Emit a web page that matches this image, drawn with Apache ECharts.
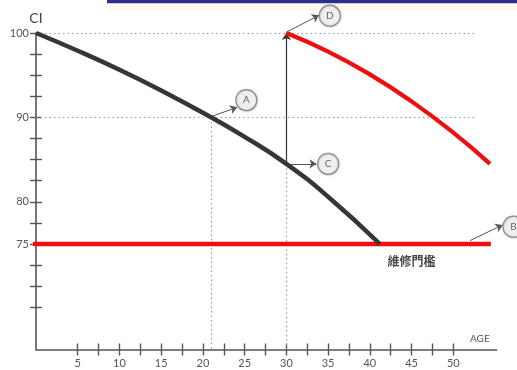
<!DOCTYPE html>
<html>
<head>
<meta charset="utf-8">
<script src="https://cdn.jsdelivr.net/npm/echarts@6/dist/echarts.min.js"></script>
<style>
  html, body { margin: 0; padding: 0; background: #fff; }
  #chart { width: 517px; height: 370px; }
</style>
</head>
<body>
<div id="chart"></div>
<script>
// Condition index (CI) against age, before and after a repair
const agesBefore = [0, 5, 10, 15, 20, 25, 30, 35, 41.2];
const ciBefore   = [100, 97.9, 95.65, 93.2, 90.55, 87.7, 84.5, 80.6, 75];

const agesAfter = [30, 35, 40, 45, 50, 54.4];
const ciAfter   = [100, 97.8, 95.1, 91.9, 88.2, 84.5];

// Maintenance threshold
const thresholdCI = 75;
const thresholdAges = [-0.9, 54.5];
const thresholdText = '維修門檻';
const thresholdTextAt = [45, 72.9];

// Axis ticks and labels
const xTicks  = [5, 7.5, 10, 12.5, 15, 17.5, 20, 22.5, 25, 27.5, 30, 32.5, 35, 37.5, 40, 42.5, 45, 47.5, 50];
const xLabels = [5, 10, 15, 20, 25, 30, 35, 40, 45, 50];
const yTicks  = [67.5, 70, 72.5, 75, 77.5, 80, 82.5, 85, 87.5, 90, 92.5, 95, 97.5, 100];
const yLabels = [75, 80, 90, 100];

// Callouts: letter, point on the chart, bubble position
const calloutNames   = ['A', 'B', 'C', 'D'];
const calloutFrom    = [[21, 90.1], [52, 75.4], [30, 84.5], [30, 100.1]];
const calloutTo      = [[24.1, 91.2], [55.9, 77.25], [33.6, 84.5], [33.9, 102.1]];
const calloutBubbles = [[25.2, 92.05], [57.2, 77.05], [35.0, 84.5], [35.2, 102.05]];

// Repair jump (arrow from C up to D)
const repairFrom = [30, 84.5];
const repairTo   = [30, 100];

// Dotted guide lines
const guideLines = [
  [[0, 100], [52.5, 100]],
  [[0, 90], [52.5, 90]],
  [[21, 90], [21, 62.5]],
  [[30, 84.5], [30, 62.5]]
];

const X_MIN = 0, X_MAX = 55.2, Y_MIN = 62.5, Y_MAX = 100;
const AXIS_COLOR = '#555';
const LABEL_FONT = 'Lato';

function pairs(xs, ys) { return xs.map((x, i) => [x, ys[i]]); }

function xAxisBase(inside) {
  return {
    type: 'value', min: X_MIN, max: X_MAX, position: 'bottom',
    axisLine: { show: !inside, onZero: false, lineStyle: { color: AXIS_COLOR, width: 1.6 } },
    axisTick: { show: true, inside: inside, length: 6, customValues: xTicks,
                lineStyle: { color: AXIS_COLOR, width: 1.4 } },
    axisLabel: inside ? { show: false } :
      { show: true, customValues: xLabels, margin: 8, color: '#555', fontSize: 11, fontFamily: LABEL_FONT },
    splitLine: { show: false }
  };
}
function yAxisBase(inside) {
  const ax = {
    type: 'value', min: Y_MIN, max: Y_MAX, position: 'left',
    axisLine: { show: !inside, onZero: false, lineStyle: { color: AXIS_COLOR, width: 1.6 } },
    axisTick: { show: true, inside: inside, length: 6, customValues: yTicks,
                lineStyle: { color: AXIS_COLOR, width: 1.4 } },
    axisLabel: inside ? { show: false } :
      { show: true, customValues: yLabels, margin: 7, color: '#555', fontSize: 11, fontFamily: LABEL_FONT },
    splitLine: { show: false }
  };
  if (!inside) {
    ax.name = 'CI';
    ax.nameLocation = 'end';
    ax.nameGap = 8;
    ax.nameTextStyle = { color: '#444', fontSize: 14, fontFamily: LABEL_FONT };
  }
  return ax;
}

const chart = echarts.init(document.getElementById('chart'), null, { renderer: 'canvas' });

chart.setOption({
  animation: false,
  backgroundColor: '#fff',
  grid: { left: 36, right: 20.3, top: 33, bottom: 20.5, containLabel: false, outerBoundsMode: 'none' },
  xAxis: [xAxisBase(false), xAxisBase(true)],
  yAxis: [yAxisBase(false), yAxisBase(true)],
  graphic: [
    { type: 'rect', left: 107, top: 0, shape: { width: 410, height: 3.6 }, style: { fill: '#2d2f88' }, silent: true },
    { type: 'rect', left: 107, top: 3.6, shape: { width: 410, height: 7 }, style: { fill: '#fdfaee' }, silent: true },
    { type: 'text', left: 470, top: 334, style: { text: 'AGE', fill: '#555', fontSize: 10, fontFamily: LABEL_FONT } }
  ],
  series: [
    {
      name: 'guides', type: 'lines', coordinateSystem: 'cartesian2d', clip: false, z: 1,
      symbol: 'none',
      lineStyle: { color: '#9a9a9a', width: 1.2, type: [1.5, 3], opacity: 1 },
      data: guideLines.map(c => ({ coords: c }))
    },
    {
      name: 'threshold', type: 'line', clip: false, z: 2,
      symbol: 'none',
      lineStyle: { color: '#f20d0d', width: 4.5 },
      data: thresholdAges.map(a => [a, thresholdCI])
    },
    {
      name: 'arrows', type: 'lines', coordinateSystem: 'cartesian2d', clip: false, z: 3,
      symbol: ['none', 'arrow'], symbolSize: 7,
      lineStyle: { color: '#555', width: 1, opacity: 1 },
      data: calloutFrom.map((p, i) => ({ coords: [p, calloutTo[i]] }))
            .concat([{ coords: [repairFrom, repairTo], lineStyle: { color: '#333', width: 1.2 } }])
    },
    {
      name: 'before', type: 'line', z: 4, smooth: true, symbol: 'none',
      lineStyle: { color: '#363636', width: 4.5 },
      data: pairs(agesBefore, ciBefore)
    },
    {
      name: 'after', type: 'line', z: 4, smooth: true, symbol: 'none',
      lineStyle: { color: '#f20d0d', width: 4.2 },
      data: pairs(agesAfter, ciAfter)
    },
    {
      name: 'callouts', type: 'scatter', clip: false, z: 5,
      symbol: 'circle', symbolSize: 21,
      itemStyle: { color: '#f7f7f7', borderColor: '#7a7a7a', borderWidth: 1.2,
                   shadowBlur: 2, shadowColor: 'rgba(0,0,0,0.25)', shadowOffsetX: 0.5, shadowOffsetY: 0.5 },
      label: { show: true, position: 'inside', formatter: p => p.name,
               color: '#444', fontSize: 10, fontFamily: LABEL_FONT },
      data: calloutBubbles.map((p, i) => ({ name: calloutNames[i], value: p }))
    },
    {
      name: 'thresholdLabel', type: 'scatter', clip: false, z: 5,
      symbolSize: 0,
      label: { show: true, position: 'inside', formatter: thresholdText,
               color: '#111', fontSize: 12, fontWeight: 'bold', fontFamily: 'Noto Sans CJK TC' },
      data: [thresholdTextAt]
    }
  ]
});
</script>
</body>
</html>
